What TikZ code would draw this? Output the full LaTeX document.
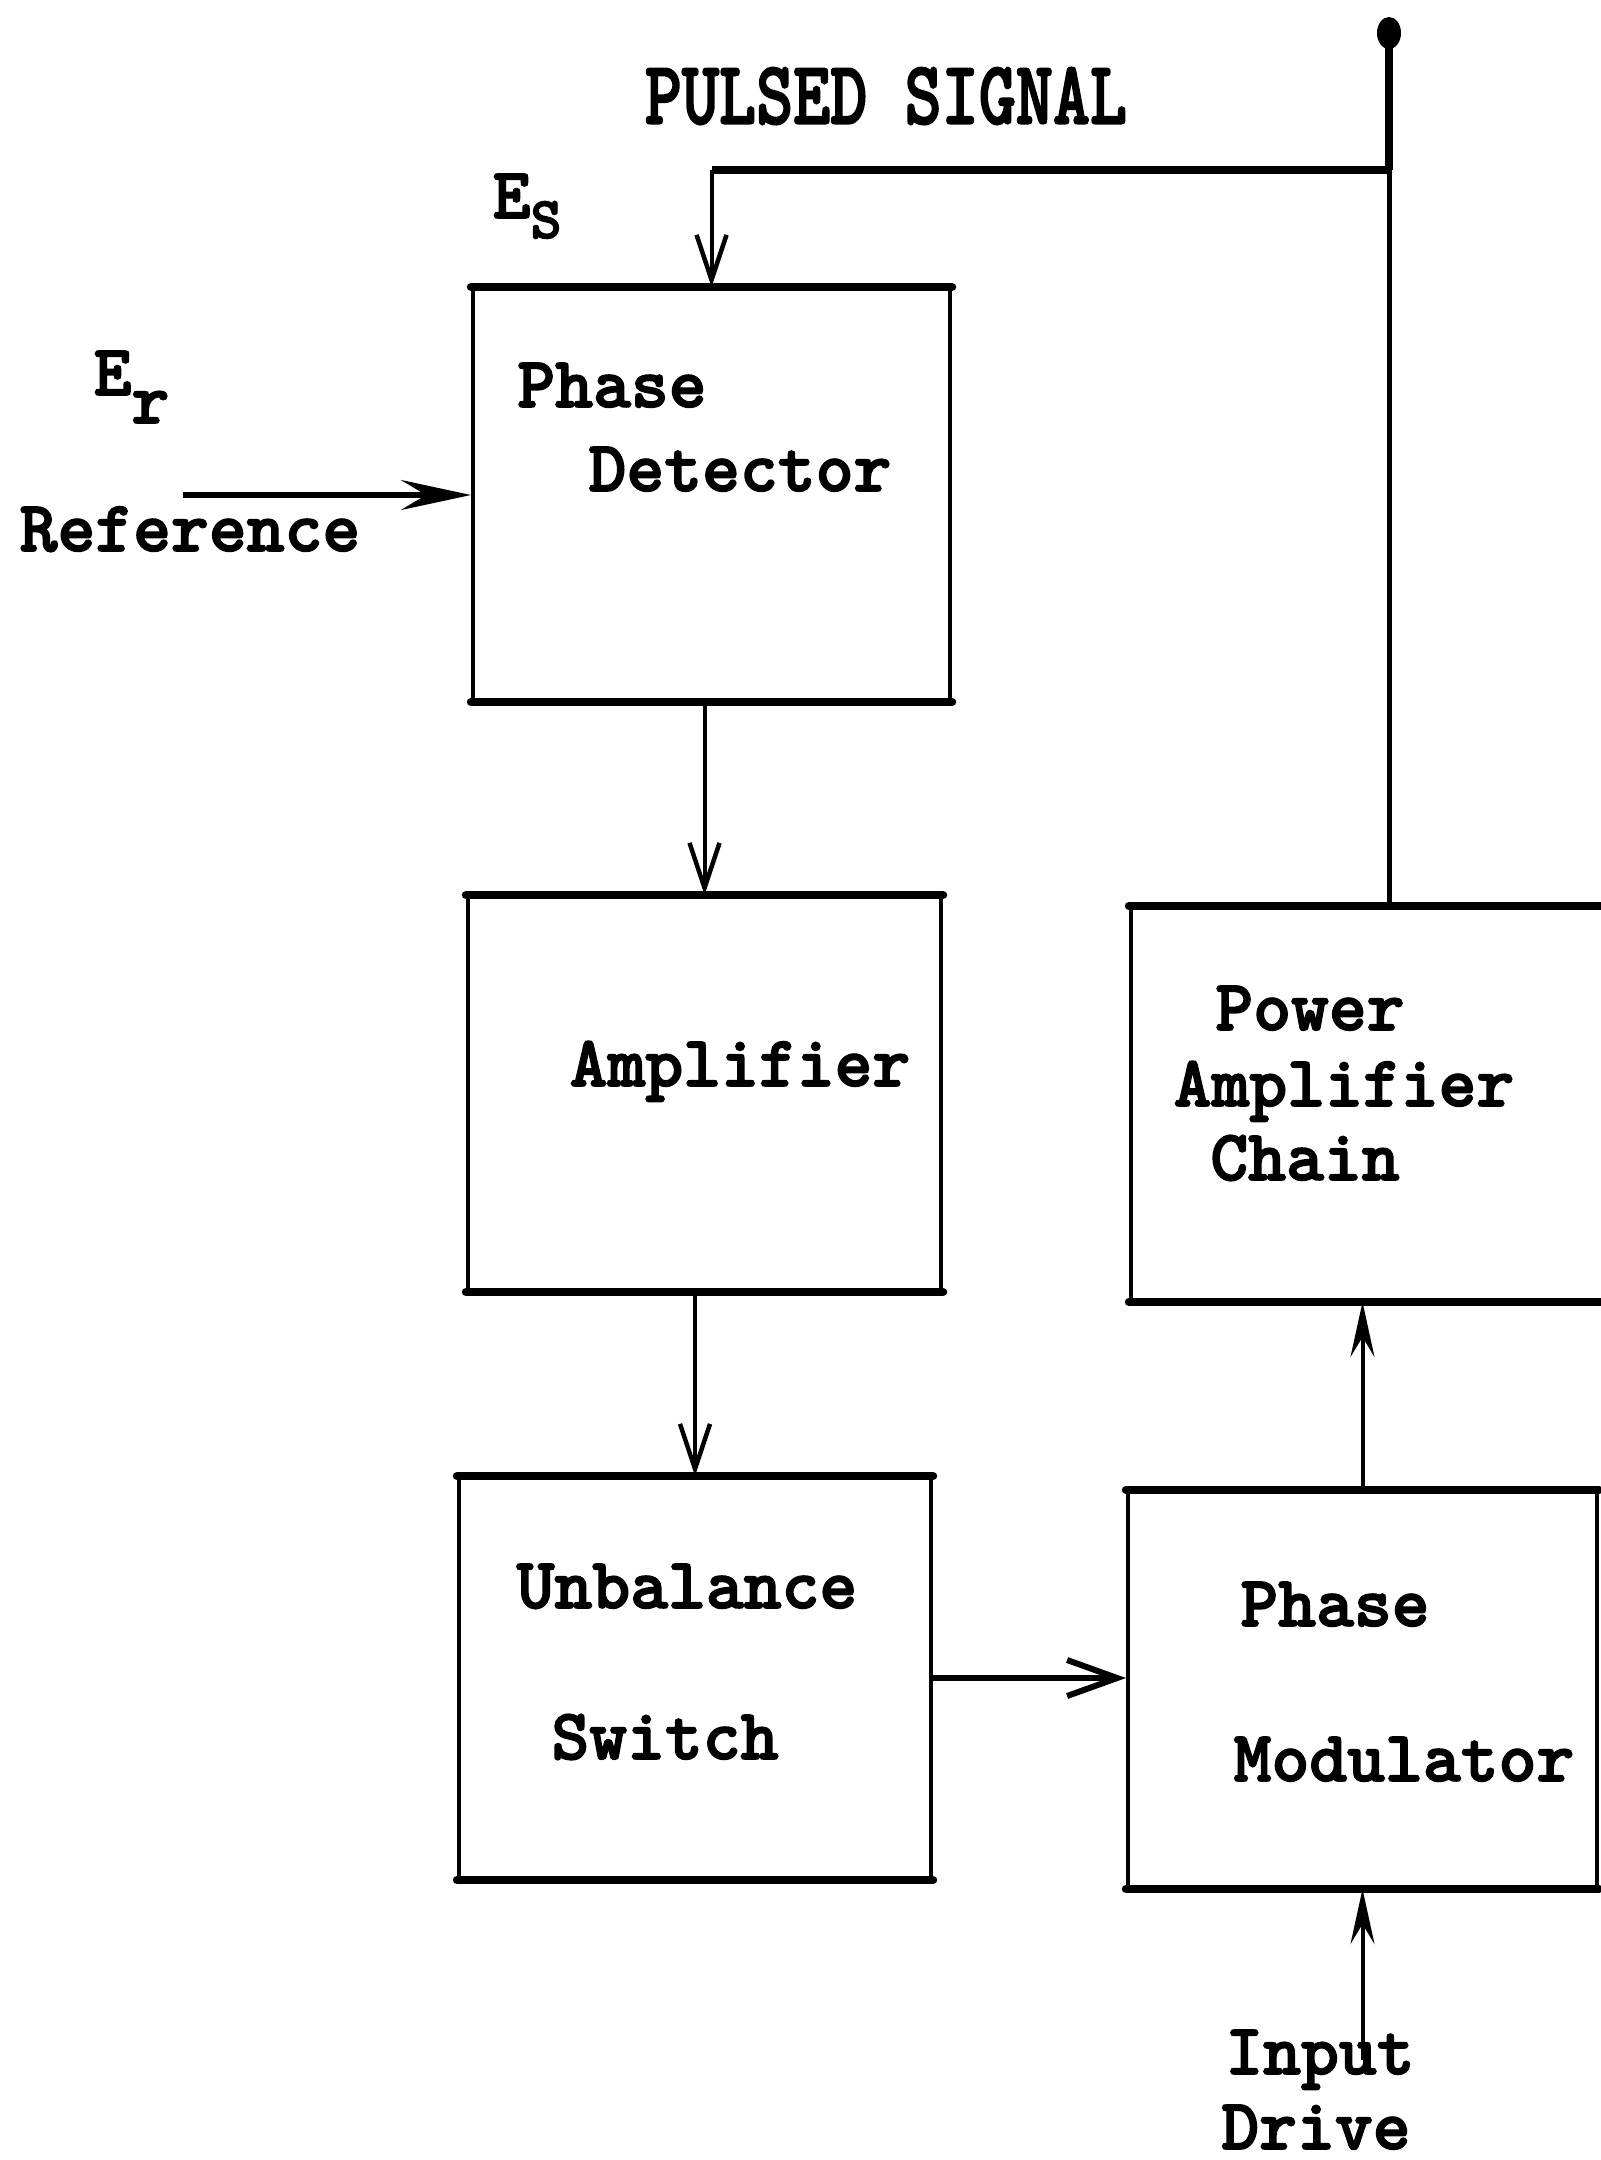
\documentclass[tikz,border=0pt]{standalone}
\usepackage{fontspec}
\newfontfamily\twfont{lmmonolt10-bold.otf}[FakeBold=2.2]
\usetikzlibrary{arrows.meta,fit,calc}
\begin{document}
\begin{tikzpicture}[x=0.01cm,y=-0.01cm,
  txt/.style={inner sep=0pt, anchor=base, font=\twfont\fontsize{20.5pt}{24pt}\selectfont},
  blk/.style={draw, line width=0.04cm, inner sep=0pt},
  edge/.style={line width=0.085cm, line cap=round},
  thinc/.style={line width=0.04cm},
  thickc/.style={line width=0.06cm},
  downhead/.style={-{Straight Barb[length=0.45cm,width=0.3cm,line width=0.045cm]}},
  uphead/.style={-{Stealth[length=0.55cm,width=0.24cm,inset=0.2cm]}},
  refhead/.style={-{Stealth[length=0.7cm,width=0.3cm,inset=0.25cm]}},
  righthead/.style={-{Straight Barb[length=0.5cm,width=0.36cm,line width=0.06cm]}}
]
\useasboundingbox[fill=white] (0,0) rectangle (1601,2160);

% blocks
\node[blk, fit={(473,289) (950,700)}] (pd) {};
\node[blk, fit={(468,897) (941,1290)}] (amp) {};
\node[blk, fit={(459,1478) (931,1878)}] (us) {};
\node[blk, fit={(1131,908) (1660,1300)}] (pac) {};
\node[blk, fit={(1128,1492) (1597,1887)}] (pm) {};
\foreach \b in {pd,amp,us,pac,pm}{
  \draw[edge] (\b.north west) -- (\b.north east);
  \draw[edge] (\b.south west) -- (\b.south east);
}

% texts
\node[txt] (pd1) at (612,407) {Phase};
\node[txt] (pd2) at (740,491) {Detector};
\node[txt] (amp1) at (740,1086) {Amplifier};
\node[txt] (pac1) at (1310,1030) {Power};
\node[txt] (pac2) at (1344,1106) {Amplifier};
\node[txt] (pac3) at (1305,1180) {Chain};
\node[txt] (us1) at (687,1608) {Unbalance};
\node[txt] (us2) at (665,1759) {Switch};
\node[txt] (pm1) at (1335,1626) {Phase};
\node[txt] (pm2) at (1404,1781) {Modulator};
\node[txt] (in1) at (1320,2074) {Input};
\node[txt] (in2) at (1316,2149) {Drive};
\node[txt] (ref) at (190,551) {Reference};
\node[txt, anchor=center] (pulsed) at (886,96) {\scalebox{0.98}[1.25]{PULSED SIGNAL}};
\node[txt, anchor=base west] (es) at (492,218) {E\raisebox{-0.2cm}{\fontsize{16.8pt}{18pt}\selectfont S}};
\node[txt, anchor=base west] (er) at (93,395) {E\raisebox{-0.28cm}{r}};

% pulsed signal line
\coordinate (tip) at (1389,33);
\coordinate (jn) at (1389,170);
\fill (tip) ellipse [x radius=12, y radius=16];
\draw[line width=0.085cm] (tip) -- (jn);
\draw[line width=0.05cm] (jn) -- (jn |- pac.north);
\draw[line width=0.075cm] (jn) -- (jn -| pd.north);
\draw[thinc, downhead] (jn -| pd.north) -- (pd.north);

% reference input
\coordinate (refstart) at (183,495);
\draw[thickc, refhead] (refstart) -- (refstart -| pd.west);

% chain connectors
\draw[thinc, downhead] (amp.north |- pd.south) -- (amp.north);
\draw[thinc, downhead] (us.north |- amp.south) -- (us.north);
\draw[thickc, righthead] (us.east) -- (us.east -| pm.west);
\draw[thinc, uphead] (pm.north) -- (pm.north |- pac.south);
\draw[thinc, uphead] (pm.south |- in1.center) -- (pm.south);
\end{tikzpicture}
\end{document}
